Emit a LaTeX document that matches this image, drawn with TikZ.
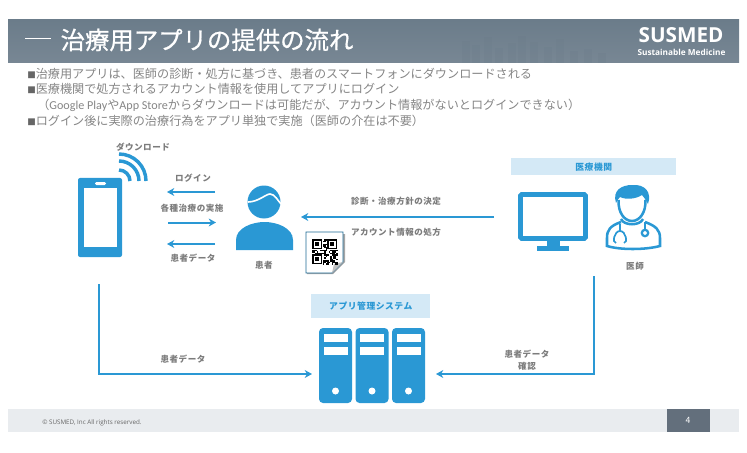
\documentclass[tikz,border=0pt]{standalone}
\usepackage{fontspec}
\setmainfont{Noto Sans CJK JP}
\newfontfamily\latinfont{Open Sans}
\newfontfamily\narrowfont{Carlito}
\newfontfamily\titlefont[FakeBold=0.7]{Noto Sans CJK JP}
\newfontfamily\labelfont[LetterSpace=6]{Noto Sans CJK JP}
\usetikzlibrary{arrows.meta}
\definecolor{iconblue}{HTML}{2A98D4}
\definecolor{tagblue}{HTML}{D4E9F6}
\definecolor{bodygray}{HTML}{858585}
\definecolor{labelgray}{HTML}{7C7C7C}
\definecolor{footgray}{HTML}{E9ECEF}
\definecolor{pagegray}{HTML}{636F7C}
\definecolor{headtop}{HTML}{6B7C8A}
\definecolor{headfoot}{HTML}{788794}
\tikzset{flow/.style={draw=iconblue, line width=1.5pt, -{Stealth[length=5.5pt,width=6pt]}}}
\tikzset{caption/.style={font=\labelfont\fontsize{6.4}{8}\selectfont\bfseries, text=labelgray, inner sep=0pt}}
\tikzset{bullet/.style={font=\fontsize{9.1}{11}\selectfont, text=bodygray, anchor=west, inner sep=0pt}}
\tikzset{tag/.style={fill=tagblue, text=iconblue, font=\labelfont\fontsize{6.6}{8}\selectfont\bfseries, inner sep=0pt, anchor=north west}}
\tikzset{icon/.style={fill=iconblue, draw=none}}
\tikzset{iconline/.style={draw=iconblue, line width=1.9pt, fill=none}}
\newcommand{\squaremark}{{\fontsize{6.4}{8}\selectfont\color{black!60}■}}

\begin{document}
\begin{tikzpicture}[x=0.75pt, y=-0.75pt]
\useasboundingbox (0,0) rectangle (747,453);

% header
\shade [top color=headtop, bottom color=headfoot] (8,20) rectangle (739,63);
\foreach \x/\h in {462/22,472/18,484/26,495/15,508/20,518/27,530/21,544/16,556/24,570/12,584/14,598/10}
  \fill [headtop, opacity=0.25] (\x,63) rectangle +(8,-\h);
\node [text=white, font=\titlefont\fontsize{18.3}{22}\selectfont, inner sep=0pt, anchor=west] (title) at (25,40) {\rule[0.42em]{19pt}{0.6pt}\hspace{7.5pt}治療用アプリの提供の流れ};
\node [text=white, font=\latinfont\fontsize{15.5}{18}\selectfont\bfseries, inner sep=0pt] (logo) at (681,35) {SUSMED};
\node [text=white, font=\latinfont\fontsize{6.2}{8}\selectfont\bfseries, inner sep=0pt] (sublogo) at (681.5,52) {Sustainable Medicine};

% bullets
\node [bullet] (line1) at (27,74) {\squaremark 治療用アプリは、医師の診断・処方に基づき、患者のスマートフォンにダウンロードされる};
\node [bullet] (line2) at (27,89) {\squaremark 医療機関で処方されるアカウント情報を使用してアプリにログイン};
\node [bullet] (line3) at (37,105) {（{\narrowfont Google Play}や{\narrowfont App Store}からダウンロードは可能だが、アカウント情報がないとログインできない）};
\node [bullet] (line4) at (27,121) {\squaremark ログイン後に実際の治療行為をアプリ単独で実施（医師の介在は不要）};

% phone
\fill [icon, rounded corners=1.5pt] (78,178) rectangle (122,257);
\fill [white] (84,188) rectangle (117,247);
\fill [white, rounded corners=1pt] (95,182) rectangle (106,185);
\foreach \r in {11,20,27}
  \draw [draw=iconblue, line width=2.6pt] (119,181)+(\r,0) arc [start angle=0, end angle=-90, radius=\r];
\fill [icon] (119,181) circle (2.6);

% patient
\fill [icon] (264,202) circle (16.5);
\draw [white, line width=1.2pt] (248,202) .. controls (258,202) and (266,194) .. (270,194) .. controls (275,194) and (278,201) .. (281,204);
\fill [icon] (236,250) -- (236,240) .. controls (236,228) and (252,222) .. (264.5,222) .. controls (277,222) and (293,228) .. (293,240) -- (293,250) -- cycle;

% qr sheet
\fill [black!35] (307,234) -- (345,234) -- (345,262) -- (333,274) -- (307,274) -- cycle;
\draw [fill=white, draw=iconblue!70!black, line width=0.6pt] (306,232) -- (343,232) -- (343,262) -- (332,273) -- (306,273) -- cycle;
\fill [black!25] (343,262) -- (334,264) -- (332,273) -- cycle;
\begin{scope}[shift={(312,239)}]
\pgfmathsetseed{11}
\foreach \i in {0,...,16}
  \foreach \j in {0,...,16} {
    \pgfmathparse{rnd<0.6 ? 1 : 0}
    \ifnum\pgfmathresult=1
      \fill [black] (\i*1.5,\j*1.5) rectangle +(1.5,1.5);
    \fi
  }
\foreach \a/\b in {0/0,15/0,0/15} {
  \fill [white] (\a,\b) rectangle +(11,11);
  \draw [black, line width=1.1pt] (\a+0.8,\b+0.8) rectangle +(8.5,8.5);
  \fill [black] (\a+3.2,\b+3.2) rectangle +(3.6,3.6);
}
\end{scope}

% hospital
\node [tag, minimum width=165*0.75pt, minimum height=17*0.75pt] (hospital) at (511,158) {医療機関};
\draw [iconline, line width=3.6pt, rounded corners=1pt] (520.5,194.5) rectangle (585.5,238.5);
\fill [icon] (547,240) rectangle (560,247);
\fill [icon] (537,246) rectangle (569,251);

% doctor
\draw [iconline] (618.5,200) .. controls (618,212) and (624,221) .. (632,221) .. controls (640,221) and (646,212) .. (645.5,200);
\fill [icon] (616,203) .. controls (612,190) and (622,185) .. (632,185) .. controls (645,184) and (652,192) .. (648,204) .. controls (645,199) and (644,197) .. (642,195) .. controls (636,199) and (626,200) .. (620,197) .. controls (618,199) and (617,201) .. (616,203) -- cycle;
\draw [iconline] (621,222) .. controls (610,226) and (607,230) .. (607,238) -- (607,246) .. controls (620,250) and (645,250) .. (660,246) -- (660,238) .. controls (660,230) and (656,226) .. (645,222);
\draw [iconline] (621,219) .. controls (624,226) and (640,226) .. (643,219);
\draw [draw=iconblue, line width=1.3pt] (620,224) -- (620,231) (616,243) .. controls (612,243) and (614,231) .. (620,231) .. controls (626,231) and (628,243) .. (624,243);
\draw [draw=iconblue, line width=1.3pt] (645,222) -- (645,229);
\draw [draw=iconblue, fill=white, line width=1.7pt] (645,233) circle (3.2);

% system
\node [tag, minimum width=119*0.75pt, minimum height=24*0.75pt] (system) at (311,294) {アプリ管理システム};
\foreach \x in {319,355.5,392} {
  \fill [icon, rounded corners=3pt] (\x,328) rectangle +(33,75);
  \fill [white] (\x+4.5,333.5) rectangle +(24,8);
  \fill [white] (\x+4.5,347) rectangle +(24,8);
  \fill [white] (\x+16.5,391) circle (3.5);
}

% footer
\fill [footgray] (8,409) rectangle (739,432);
\fill [pagegray] (667,409) rectangle (710,432);
\node [text=black!60, font=\latinfont\fontsize{4.7}{6}\selectfont, inner sep=0pt, anchor=west] (copy) at (42,423) {© SUSMED, Inc All rights reserved.};
\node [text=white, font=\fontsize{6.5}{8}\selectfont, inner sep=0pt] (pageno) at (688,420) {4};

% connectors
\coordinate (loginfrom) at (215,192);
\coordinate (loginto) at (167,192);
\coordinate (carefrom) at (168,222.5);
\coordinate (careto) at (216,222.5);
\coordinate (datafrom) at (215,244);
\coordinate (datato) at (167,244);
\coordinate (orderfrom) at (494,217);
\coordinate (orderto) at (301,217);
\coordinate (phonefoot) at (99,284);
\coordinate (systemleft) at (312,374);
\coordinate (doctorfoot) at (594,276);
\coordinate (systemright) at (436,374);

\draw [flow] (loginfrom) to (loginto);
\draw [flow] (carefrom) to (careto);
\draw [flow] (datafrom) to (datato);
\draw [flow] (orderfrom) to (orderto);
\draw [flow] (phonefoot) |- (systemleft);
\draw [flow] (doctorfoot) |- (systemright);

% labels
\node [caption] (download) at (143,147) {ダウンロード};
\node [caption] (login) at (193,178) {ログイン};
\node [caption] (care) at (192,208) {各種治療の実施};
\node [caption] (data) at (193,258) {患者データ};
\node [caption] (patient) at (264,265) {患者};
\node [caption] (diagnosis) at (396,201) {診断・治療方針の決定};
\node [caption] (account) at (396,232) {アカウント情報の処方};
\node [caption] (doctor) at (635,266) {医師};
\node [caption] (uplink) at (183,359) {患者データ};
\node [caption] (downlink) at (527,354) {患者データ};
\node [caption] (check) at (527,366) {確認};

\end{tikzpicture}
\end{document}
